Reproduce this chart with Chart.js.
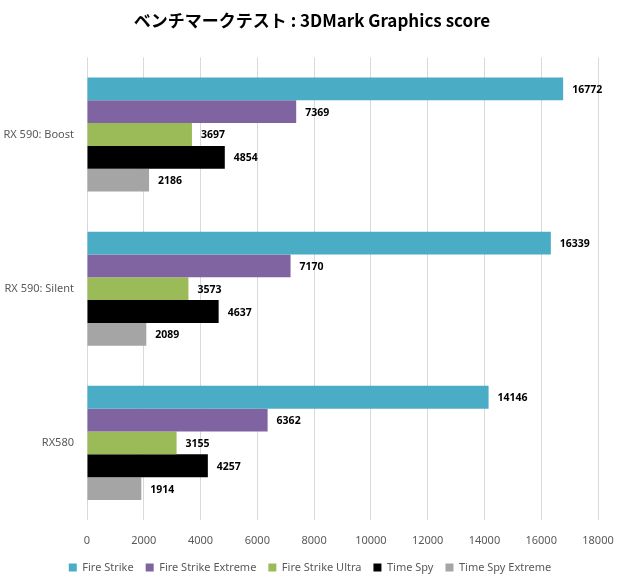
<!DOCTYPE html>
<html>
<head>
<meta charset="utf-8">
<script src="https://cdn.jsdelivr.net/npm/chart.js@4"></script>
<style>
  body { margin: 0; background: #fff; }
  #wrap { width: 620px; height: 585px; }
</style>
</head>
<body>
<div id="wrap"><canvas id="benchChart" width="620" height="585"></canvas></div>
<script>
const categories = ['RX 590: Boost', 'RX 590: Silent', 'RX580'];
const fireStrike = [16772, 16339, 14146];
const fireStrikeExtreme = [7369, 7170, 6362];
const fireStrikeUltra = [3697, 3573, 3155];
const timeSpy = [4854, 4637, 4257];
const timeSpyExtreme = [2186, 2089, 1914];

const FONT = '"Noto Sans", "Noto Sans CJK JP", sans-serif';

// value labels at the end of each bar
const barValues = {
    id: 'barValues',
    afterLayout(chart) {
        // nudge title and legend a bit right, like the original
        chart.titleBlock.left += 26;
        chart.legend.left += 22;
    },
    afterDatasetsDraw(chart) {
        const ctx = chart.ctx;
        ctx.save();
        ctx.font = 'bold 10.5px ' + FONT;
        ctx.fillStyle = '#000';
        ctx.textAlign = 'left';
        ctx.textBaseline = 'middle';
        chart.data.datasets.forEach((ds, i) => {
            chart.getDatasetMeta(i).data.forEach((bar, j) => {
                ctx.fillText(ds.data[j], bar.x + 9, bar.y + 1);
            });
        });
        ctx.restore();
    }
};

new Chart(document.getElementById('benchChart'), {
    type: 'bar',
    data: {
        labels: categories,
        datasets: [
            { label: 'Fire Strike', data: fireStrike, backgroundColor: '#4bacc6' },
            { label: 'Fire Strike Extreme', data: fireStrikeExtreme, backgroundColor: '#8064a2' },
            { label: 'Fire Strike Ultra', data: fireStrikeUltra, backgroundColor: '#9bbb59' },
            { label: 'Time Spy', data: timeSpy, backgroundColor: '#000000' },
            { label: 'Time Spy Extreme', data: timeSpyExtreme, backgroundColor: '#a5a5a5' }
        ]
    },
    options: {
        indexAxis: 'y',
        responsive: false,
        animation: false,
        datasets: { bar: { barPercentage: 1, categoryPercentage: 0.74 } },
        layout: { padding: { left: 0, right: 22, top: 0, bottom: 2 } },
        scales: {
            x: {
                min: 0,
                max: 18000,
                ticks: {
                    stepSize: 2000,
                    color: '#595959',
                    font: { family: FONT, size: 11 },
                    padding: 14,
                    callback: (v) => String(v)
                },
                grid: { color: '#d9d9d9', drawTicks: false },
                border: { display: false },
                afterFit(scale) {
                    scale.height = 30;
                    scale.paddingLeft = 0;
                    scale.paddingRight = 0;
                }
            },
            y: {
                ticks: { color: '#595959', font: { family: FONT, size: 11 }, padding: 5 },
                grid: { display: false },
                border: { display: false },
                afterFit(scale) { scale.width = 87; }
            }
        },
        plugins: {
            title: {
                display: true,
                text: 'ベンチマークテスト : 3DMark Graphics score',
                color: '#000',
                font: { family: '"Noto Sans CJK JP", sans-serif', size: 17, weight: 'bold' },
                padding: { top: 10, bottom: 27 }
            },
            legend: {
                position: 'bottom',
                labels: {
                    boxWidth: 8,
                    boxHeight: 8,
                    padding: 12,
                    color: '#595959',
                    font: { family: FONT, size: 11 }
                }
            },
            tooltip: { enabled: false }
        }
    },
    plugins: [barValues]
});
</script>
</body>
</html>
